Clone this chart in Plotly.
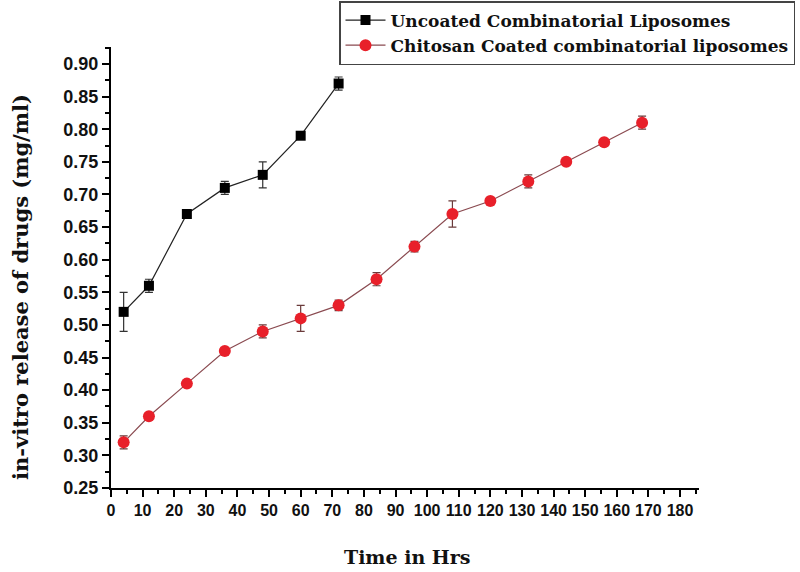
import plotly.graph_objects as go

# Data
uncoated_time = [4, 12, 24, 36, 48, 60, 72]
uncoated_release = [0.52, 0.56, 0.67, 0.71, 0.73, 0.79, 0.87]
uncoated_err = [0.03, 0.01, 0.004, 0.01, 0.02, 0.004, 0.01]

coated_time = [4, 12, 24, 36, 48, 60, 72, 84, 96, 108, 120, 132, 144, 156, 168]
coated_release = [0.32, 0.36, 0.41, 0.46, 0.49, 0.51, 0.53, 0.57, 0.62, 0.67, 0.69, 0.72, 0.75, 0.78, 0.81]
coated_err = [0.01, 0.005, 0.005, 0.005, 0.01, 0.02, 0.008, 0.01, 0.008, 0.02, 0.005, 0.01, 0.005, 0.004, 0.01]

x_ticks = list(range(0, 190, 10))
y_ticks = [0.25, 0.30, 0.35, 0.40, 0.45, 0.50, 0.55, 0.60, 0.65, 0.70, 0.75, 0.80, 0.85, 0.90]

W, H = 800, 572
PL, PR, PT, PB = 111, 699, 47, 488  # plot area in pixels

fig = go.Figure()
fig.add_trace(go.Scatter(
    x=uncoated_time, y=uncoated_release, mode="lines+markers",
    name="<b>Uncoated Combinatorial Liposomes</b>",
    line=dict(color="#222222", width=1.2),
    marker=dict(symbol="square", size=10, color="#000000"),
    error_y=dict(type="data", array=uncoated_err, color="#333333", thickness=1.2, width=4),
))
fig.add_trace(go.Scatter(
    x=coated_time, y=coated_release, mode="lines+markers",
    name="<b>Chitosan Coated combinatorial liposomes</b>",
    line=dict(color="#8a4a50", width=1.2),
    marker=dict(symbol="circle", size=12, color="#e8202a"),
    error_y=dict(type="data", array=coated_err, color="#6a3a3a", thickness=1.2, width=4),
))

fig.update_layout(
    width=W, height=H,
    margin=dict(l=PL, r=W - PR, t=PT, b=H - PB, autoexpand=False),
    paper_bgcolor="white", plot_bgcolor="white",
    showlegend=True,
    legend=dict(
        xref="container", yref="container",
        x=795 / W, xanchor="right", y=1 - 1 / H, yanchor="top",
        bordercolor="#444444", borderwidth=1.5, bgcolor="white",
        font=dict(family="DejaVu Serif", size=17, color="#111111"),
        tracegroupgap=0, itemwidth=40,
    ),
    xaxis=dict(
        range=[0, 186], tickvals=x_ticks, ticktext=["<b>%d</b>" % v for v in x_ticks],
        showline=True, linecolor="black", linewidth=2,
        ticks="outside", ticklen=7, tickwidth=1.5, tickcolor="black",
        minor=dict(ticks="outside", ticklen=4, tickwidth=1.5, tickcolor="black", dtick=5),
        showgrid=False, zeroline=False,
        tickfont=dict(family="Liberation Sans", size=16, color="#111111"),
    ),
    yaxis=dict(
        range=[0.25, 0.926], tickvals=y_ticks, ticktext=["<b>%.2f</b>" % v for v in y_ticks],
        showline=True, linecolor="black", linewidth=2,
        ticks="outside", ticklen=7, tickwidth=1.5, tickcolor="black",
        minor=dict(ticks="outside", ticklen=4, tickwidth=1.5, tickcolor="black", dtick=0.025),
        showgrid=False, zeroline=False,
        tickfont=dict(family="Liberation Sans", size=18, color="#111111"),
    ),
    annotations=[
        dict(text="<b>Time in Hrs</b>", xref="paper", yref="paper",
             x=(407 - PL) / (PR - PL), y=-(557 - PB) / (PB - PT),
             xanchor="center", yanchor="middle",
             showarrow=False, font=dict(family="DejaVu Serif", size=19, color="#111111")),
        dict(text="<b>in-vitro release of drugs (mg/ml)</b>", xref="paper", yref="paper",
             x=-(PL - 20) / (PR - PL), y=(PB - 287) / (PB - PT),
             xanchor="center", yanchor="middle",
             textangle=-90, showarrow=False,
             font=dict(family="DejaVu Serif", size=21, color="#111111")),
    ],
)

fig.write_html(
    "out.html",
    config={"displayModeBar": False},
    post_script="document.body.style.margin='0';document.body.style.overflow='hidden';",
)
